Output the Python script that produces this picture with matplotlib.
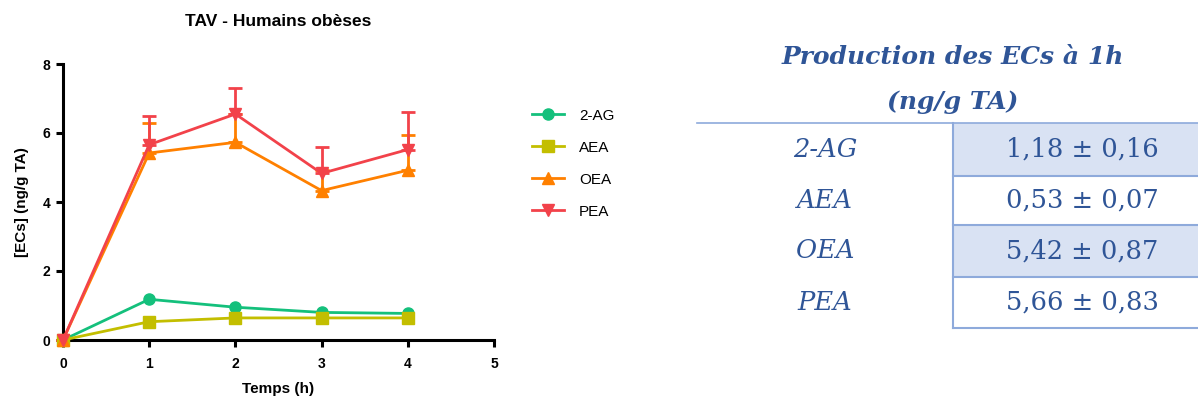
import matplotlib
matplotlib.use("Agg")
import matplotlib.pyplot as plt
import numpy as np

# DATA
temps = [0, 1, 2, 3, 4]
series = ["2-AG", "AEA", "OEA", "PEA"]
val_2ag = [0, 1.18, 0.95, 0.80, 0.77]
val_aea = [0, 0.53, 0.64, 0.64, 0.64]
val_oea = [0, 5.42, 5.73, 4.33, 4.92]
val_pea = [0, 5.66, 6.55, 4.83, 5.52]
# upper error bars (2-AG / AEA ones are hidden under the markers)
err_2ag = [0, 0, 0, 0, 0]
err_aea = [0, 0, 0, 0, 0]
err_oea = [0, 0.87, 0.82, 0.60, 1.02]
err_pea = [0, 0.83, 0.75, 0.76, 1.10]

table_labels = ["2-AG", "AEA", "OEA", "PEA"]
table_values = ["1,18 ± 0,16", "0,53 ± 0,07", "5,42 ± 0,87", "5,66 ± 0,83"]

# STYLE
colors = ["#14C07C", "#C3BE00", "#FF8000", "#F2424A"]
markers = ["o", "s", "^", "v"]
blue = "#2F5597"

plt.rcParams["font.family"] = ["Liberation Sans", "DejaVu Sans"]

fig = plt.figure(figsize=(11.98, 4.03), dpi=100)
ax = fig.add_axes([63 / 1198, 1 - 340 / 403, 431 / 1198, 276 / 403])

values = [val_2ag, val_aea, val_oea, val_pea]
errors = [err_2ag, err_aea, err_oea, err_pea]
handles = []
for name, v, e, c, m in zip(series, values, errors, colors, markers):
    if max(e) > 0:
        low = np.zeros(len(e))
        ax.errorbar(temps, v, yerr=[low, e], color=c, lw=2, capsize=5, capthick=2,
                    elinewidth=2, fmt="none", clip_on=False, zorder=2)
    h, = ax.plot(temps, v, color=c, lw=2, marker=m, markersize=8, clip_on=False,
                 label=name, zorder=3)
    handles.append(h)

ax.set_xlim(0, 5)
ax.set_ylim(0, 8)
ax.set_xticks([0, 1, 2, 3, 4, 5])
ax.set_yticks([0, 2, 4, 6, 8])
for s in ["top", "right"]:
    ax.spines[s].set_visible(False)
for s in ["left", "bottom"]:
    ax.spines[s].set_linewidth(2.2)
ax.tick_params(width=2.2, length=5, labelsize=10, pad=4)
ax.tick_params(axis="x", pad=7)
for lab in ax.get_xticklabels() + ax.get_yticklabels():
    lab.set_fontweight("bold")
ax.set_xlabel("Temps (h)", fontsize=11, fontweight="bold", labelpad=8)
ax.set_ylabel("[ECs] (ng/g TA)", fontsize=11, fontweight="bold", labelpad=10)
ax.set_title("TAV - Humains obèses", fontsize=12.5, fontweight="bold", pad=27)

fig.legend(handles=handles, loc="upper left", bbox_to_anchor=(518 / 1198, 1 - 95 / 403),
           frameon=False, fontsize=11, handlelength=2.1, labelspacing=1.18,
           handletextpad=1.0)

# TABLE (pixel coordinates)
tb = fig.add_axes([0, 0, 1, 1])
tb.set_xlim(0, 1198)
tb.set_ylim(403, 0)
tb.axis("off")

serif = ["DejaVu Serif"]
tb.text(953, 57, "Production des ECs à 1h", ha="center", va="center", fontsize=18,
        fontweight="bold", style="italic", color=blue, family=serif)
tb.text(953, 102, "(ng/g TA)", ha="center", va="center", fontsize=18,
        fontweight="bold", style="italic", color=blue, family=serif)

row_edges = [123, 176, 225, 277, 328]
line_c = "#8EAADB"
for i, (lab, val) in enumerate(zip(table_labels, table_values)):
    y0, y1 = row_edges[i], row_edges[i + 1]
    if i % 2 == 0:
        tb.add_patch(plt.Rectangle((953, y0), 245, y1 - y0, color="#D9E2F3", lw=0))
    yc = (y0 + y1) / 2
    tb.text(825, yc, lab, ha="center", va="center", fontsize=18.5, style="italic",
            color=blue, family=serif)
    tb.text(1082, yc, val, ha="center", va="center", fontsize=18.5, color=blue,
            family=serif)
tb.plot([697, 1198], [123, 123], color=line_c, lw=1.2)
tb.plot([953, 953], [123, 328], color=line_c, lw=1.5)
for y in row_edges[1:]:
    tb.plot([953, 1198], [y, y], color=line_c, lw=1.5)

fig.savefig("out.png", dpi=100)
